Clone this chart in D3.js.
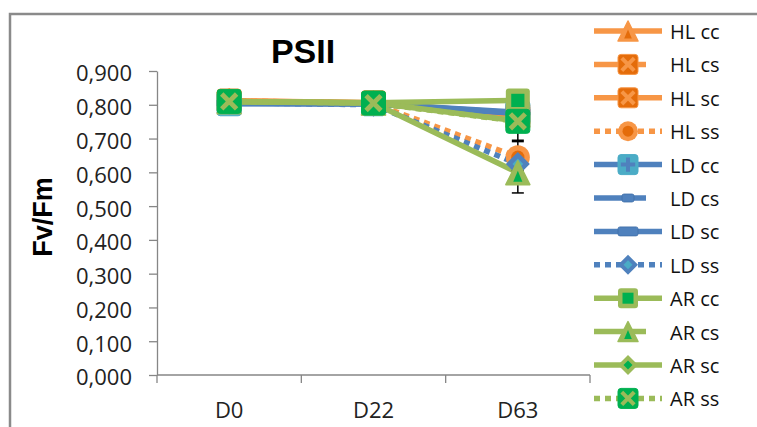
<!DOCTYPE html>
<html><head><meta charset="utf-8">
<script src="https://cdn.jsdelivr.net/npm/d3@7/dist/d3.min.js"></script>
<style>
html,body{margin:0;padding:0;background:#fff;}
svg{display:block;}
</style></head>
<body>
<svg id="chart" width="757" height="427"></svg>
<script>
// ---- data ----
const categories = ["D0", "D22", "D63"];
const seriesNames = ["HL cc","HL cs","HL sc","HL ss","LD cc","LD cs","LD sc","LD ss","AR cc","AR cs","AR sc","AR ss"];
const hlCC = [0.812, 0.806, 0.770];
const hlCS = [0.810, 0.805, 0.765];
const hlSC = [0.811, 0.806, 0.772];
const hlSS = [0.812, 0.804, 0.645];
const ldCC = [0.803, 0.803, 0.776];
const ldCS = [0.804, 0.802, 0.774];
const ldSC = [0.805, 0.803, 0.778];
const ldSS = [0.806, 0.800, 0.625];
const arCC = [0.810, 0.806, 0.813];
const arCS = [0.809, 0.805, 0.599];
const arSC = [0.810, 0.806, 0.752];
const arSS = [0.810, 0.805, 0.751];
const seriesValues = [hlCC, hlCS, hlSC, hlSS, ldCC, ldCS, ldSC, ldSS, arCC, arCS, arSC, arSS];
const errorValues = [
  [0.004,0.004,0.010],[0.004,0.004,0.010],[0.004,0.004,0.010],[0.004,0.004,0.050],
  [0.004,0.004,0.010],[0.004,0.004,0.010],[0.004,0.004,0.010],[0.004,0.004,0.020],
  [0.004,0.004,0.005],[0.004,0.004,0.060],[0.004,0.004,0.010],[0.004,0.004,0.060]
];
const yTicks = [0, 0.1, 0.2, 0.3, 0.4, 0.5, 0.6, 0.7, 0.8, 0.9];
const titleText = "PSII";
const yLabel = "Fv/Fm";

// ---- styles ----
const ORANGE = "#F79646", ORANGE_D = "#E46C0A";
const BLUE = "#4F81BD", TEAL = "#4BACC6";
const GREEN = "#9BBB59", GREEN_D = "#00B050";
const styles = [
  {c: ORANGE, dash: false, m: "tri", c1: ORANGE, c2: ORANGE_D},
  {c: ORANGE, dash: false, m: "sqX", c1: ORANGE, c2: ORANGE_D, short: true},
  {c: ORANGE, dash: false, m: "sqX", c1: ORANGE, c2: ORANGE_D},
  {c: ORANGE, dash: true,  m: "circ", c1: ORANGE, c2: ORANGE_D},
  {c: BLUE, dash: false, m: "sqPlus", c1: BLUE, c2: TEAL},
  {c: BLUE, dash: false, m: "dashS", c1: BLUE, c2: BLUE, short: true},
  {c: BLUE, dash: false, m: "dashL", c1: BLUE, c2: BLUE},
  {c: BLUE, dash: true,  m: "diam", c1: BLUE, c2: TEAL},
  {c: GREEN, dash: false, m: "sqSq", c1: GREEN, c2: GREEN_D},
  {c: GREEN, dash: false, m: "tri", c1: GREEN, c2: GREEN_D, short: true},
  {c: GREEN, dash: false, m: "diam", c1: GREEN, c2: GREEN_D},
  {c: GREEN, dash: true,  m: "sqXg", c1: GREEN, c2: GREEN_D}
];

const svg = d3.select("#chart");
const AX = "#868686";
const FONT = "'Open Sans', 'Liberation Sans', sans-serif";

// chart border
svg.append("path").attr("d", "M10,430V14H760").attr("fill", "none")
  .attr("stroke", "#8a8a8a").attr("stroke-width", 2.5);

const x = d3.scaleBand().domain(categories).range([157, 590]).paddingInner(0).paddingOuter(0);
const y = d3.scaleLinear().domain([0, 0.9]).range([375, 71]);
const xc = c => x(c) + x.bandwidth() / 2;

const fmt = d3.formatLocale({decimal: ",", thousands: ".", grouping: [3], currency: ["", ""]}).format(".3f");

// y axis
const yAxis = svg.append("g").attr("transform", "translate(157,0)")
  .call(d3.axisLeft(y).tickValues(yTicks).tickSize(8).tickSizeOuter(0).tickPadding(17).tickFormat(fmt));
yAxis.select(".domain").attr("stroke", AX).attr("stroke-width", 1.3);
yAxis.selectAll(".tick line").attr("stroke", AX).attr("stroke-width", 1.3);
yAxis.selectAll(".tick text").attr("font-family", FONT).attr("font-size", 22).attr("fill", "#222").attr("dy", "0.45em");

// x axis
const xAxis = svg.append("g").attr("transform", "translate(0,375)")
  .call(d3.axisBottom(x).tickSize(0).tickSizeOuter(0).tickPadding(27));
xAxis.select(".domain").remove();
xAxis.selectAll(".tick line").remove();
xAxis.selectAll(".tick text").attr("font-family", FONT).attr("font-size", 22).attr("fill", "#222");
svg.append("line").attr("x1", x.range()[0]).attr("x2", x.range()[1]).attr("y1", 375).attr("y2", 375)
  .attr("stroke", AX).attr("stroke-width", 1.3);
const bounds = categories.map(c => x(c)).concat([x.range()[1]]);
svg.selectAll("line.xt").data(bounds).enter().append("line").attr("class", "xt")
  .attr("x1", d => d).attr("x2", d => d).attr("y1", 375).attr("y2", 383)
  .attr("stroke", AX).attr("stroke-width", 1.3);

// title
svg.append("text").attr("x", 303).attr("y", 63).attr("text-anchor", "middle")
  .attr("font-family", "'Liberation Sans', Arial, sans-serif").attr("font-weight", "bold")
  .attr("font-size", 34).attr("fill", "#000").text(titleText);
// y label
svg.append("text").attr("transform", "translate(52,217) rotate(-90)").attr("text-anchor", "middle")
  .attr("font-family", "'Liberation Sans', Arial, sans-serif").attr("font-weight", "bold")
  .attr("font-size", 27).attr("fill", "#000").text(yLabel);

// marker drawing
function drawMarker(g, st, cx, cy, s) {
  const h = s / 2;
  const m = g.append("g").attr("transform", `translate(${cx},${cy})`);
  switch (st.m) {
    case "tri": {
      const tri = k => `M0,${-h*k}L${h*k},${h*k}L${-h*k},${h*k}Z`;
      m.append("path").attr("d", tri(1)).attr("fill", st.c1).attr("stroke", st.c1).attr("stroke-linejoin", "round").attr("stroke-width", 1.5);
      m.append("path").attr("d", `M0,${-h*0.15}L${h*0.38},${h*0.75}L${-h*0.38},${h*0.75}Z`).attr("fill", st.c2);
      break;
    }
    case "sqX": case "sqXg": {
      m.append("rect").attr("x", -h).attr("y", -h).attr("width", s).attr("height", s).attr("rx", 3)
        .attr("fill", st.c2).attr("stroke", st.m === "sqX" ? st.c1 : st.c2).attr("stroke-width", 1);
      const k = h * 0.62;
      m.append("path").attr("d", `M${-k},${-k}L${k},${k}M${k},${-k}L${-k},${k}`)
        .attr("stroke", st.c1).attr("stroke-width", s * 0.2).attr("stroke-linecap", "butt");
      break;
    }
    case "circ":
      m.append("circle").attr("r", h).attr("fill", st.c1);
      m.append("circle").attr("r", h * 0.55).attr("fill", st.c2);
      break;
    case "sqPlus": {
      m.append("rect").attr("x", -h).attr("y", -h).attr("width", s).attr("height", s).attr("rx", 3)
        .attr("fill", st.c2).attr("stroke", st.c2);
      const k = h * 0.72;
      m.append("path").attr("d", `M${-k},0H${k}M0,${-k}V${k}`).attr("stroke", st.c1).attr("stroke-width", s * 0.2);
      break;
    }
    case "dashS":
      m.append("rect").attr("x", -s * 0.3).attr("y", -4).attr("width", s * 0.6).attr("height", 8).attr("rx", 2)
        .attr("fill", st.c1).attr("stroke", "#3f6fa8").attr("stroke-width", 0.8);
      break;
    case "dashL":
      m.append("rect").attr("x", -h).attr("y", -4.5).attr("width", s).attr("height", 9).attr("rx", 2)
        .attr("fill", st.c1).attr("stroke", "#3f6fa8").attr("stroke-width", 0.8);
      break;
    case "diam":
      m.append("path").attr("d", `M0,${-h}L${h},0L0,${h}L${-h},0Z`).attr("fill", st.c1);
      m.append("path").attr("d", `M0,${-h*0.45}L${h*0.45},0L0,${h*0.45}L${-h*0.45},0Z`).attr("fill", st.c2);
      break;
    case "sqSq":
      m.append("rect").attr("x", -h).attr("y", -h).attr("width", s).attr("height", s).attr("rx", 3).attr("fill", st.c1);
      m.append("rect").attr("x", -h * 0.55).attr("y", -h * 0.55).attr("width", h * 1.1).attr("height", h * 1.1).attr("fill", st.c2);
      break;
  }
}

const LW = 5.5;
const DASH = "6,5";
const line = d3.line().x((d, i) => xc(categories[i])).y(d => y(d));

// lines
const plot = svg.append("g");
seriesValues.forEach((vals, si) => {
  const st = styles[si];
  plot.append("path").attr("d", line(vals)).attr("fill", "none").attr("stroke", st.c)
    .attr("stroke-width", LW).attr("stroke-linejoin", "round")
    .attr("stroke-dasharray", st.dash ? DASH : null);
});
// error bars
seriesValues.forEach((vals, si) => {
  vals.forEach((v, i) => {
    const e = errorValues[si][i];
    const cx = xc(categories[i]);
    const eg = plot.append("g").attr("stroke", "#000").attr("stroke-width", 1.5);
    eg.append("line").attr("x1", cx).attr("x2", cx).attr("y1", y(v - e)).attr("y2", y(v + e));
    eg.append("line").attr("x1", cx - 6).attr("x2", cx + 6).attr("y1", y(v - e)).attr("y2", y(v - e));
    eg.append("line").attr("x1", cx - 6).attr("x2", cx + 6).attr("y1", y(v + e)).attr("y2", y(v + e));
  });
});
// markers
seriesValues.forEach((vals, si) => {
  vals.forEach((v, i) => drawMarker(plot, styles[si], xc(categories[i]), y(v), 24));
});

// legend
const legend = svg.append("g");
seriesNames.forEach((name, i) => {
  const st = styles[i];
  const cy = 31 + i * 33.4;
  legend.append("line").attr("x1", 594).attr("x2", st.short ? 646 : 662).attr("y1", cy).attr("y2", cy)
    .attr("stroke", st.c).attr("stroke-width", LW).attr("stroke-dasharray", st.dash ? DASH : null);
  drawMarker(legend, st, 628, cy, 20);
  legend.append("text").attr("x", 670).attr("y", cy + 8).attr("font-family", FONT)
    .attr("font-size", 20).attr("fill", "#111").text(name);
});
</script>
</body></html>
